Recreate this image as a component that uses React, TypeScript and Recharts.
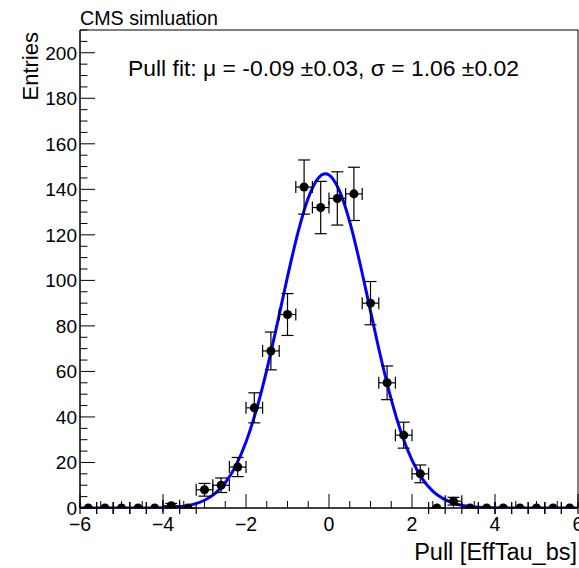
import { ComposedChart, ErrorBar, Line, ReferenceArea, Scatter, XAxis, YAxis } from "recharts";

// histogram of pulls, bin width 0.4
const binCenters = [
  -5.8, -5.4, -5.0, -4.6, -4.2, -3.8, -3.4, -3.0, -2.6, -2.2, -1.8, -1.4, -1.0, -0.6, -0.2,
  0.2, 0.6, 1.0, 1.4, 1.8, 2.2, 2.6, 3.0, 3.4, 3.8, 4.2, 4.6, 5.0, 5.4, 5.8,
];
const entries = [
  0, 0, 0, 0, 0, 1, 0, 8, 10, 18, 44, 69, 85, 141, 132,
  136, 138, 90, 55, 32, 15, 0, 3, 0, 0, 0, 0, 0, 0, 0,
];
const entryErrors = [
  0, 0, 0, 0, 0, 1, 0, 2.8, 3.2, 4.2, 6.6, 8.3, 9.2, 11.9, 11.5,
  11.7, 11.7, 9.5, 7.4, 5.7, 3.9, 0, 1.7, 0, 0, 0, 0, 0, 0, 0,
];
const binHalfWidth = 0.2;

// gaussian fit curve
const fitX = [
  -6, -5, -4.5, -4, -3.75, -3.5, -3.25, -3, -2.75, -2.5, -2.25, -2, -1.75, -1.5, -1.25, -1,
  -0.75, -0.5, -0.25, -0.09, 0, 0.25, 0.5, 0.75, 1, 1.25, 1.5, 1.75, 2, 2.25, 2.5, 2.75, 3,
  3.25, 3.5, 3.75, 4, 4.5, 5, 6,
];
const fitY = [
  0, 0, 0.02, 0.16, 0.38, 0.83, 1.7, 3.4, 6.3, 11.1, 18.4, 29.0, 43.1, 60.6, 80.7, 101.6,
  120.9, 136.2, 145.1, 146.8, 146.3, 139.4, 125.7, 107.2, 86.5, 66.0, 47.7, 32.5, 21.0, 12.8, 7.4, 4.1, 2.1,
  1.0, 0.47, 0.21, 0.08, 0.01, 0, 0,
];

const xMajorTicks = [-6, -4, -2, 0, 2, 4, 6];
const yMajorTicks = [0, 20, 40, 60, 80, 100, 120, 140, 160, 180, 200];
const xTicks: number[] = [];
for (let v = -6; v <= 6.001; v += 0.5) xTicks.push(Math.round(v * 10) / 10);
const yTicks: number[] = [];
for (let v = 0; v <= 210; v += 5) yTicks.push(v);

const titleText = "CMS simluation";
const fitText = "Pull fit: \u03bc = -0.09 \u00b10.03, \u03c3 = 1.06 \u00b10.02";
const xTitle = "Pull [EffTau_bs]";
const yTitle = "Entries";

const points = binCenters.map((x, i) => ({ x, y: entries[i], ey: entryErrors[i], ex: binHalfWidth }));
const fitData = fitX.map((x, i) => ({ x, y: fitY[i] }));

const FONT = '"Liberation Sans", Arial, Helvetica, sans-serif';

const fmt = (v: number) => (v < 0 ? `\u2212${Math.abs(v)}` : `${v}`);

const XTick = (props: any) => {
  const { x, y, payload } = props;
  const major = xMajorTicks.includes(payload.value);
  return (
    <g>
      <line x1={x} x2={x} y1={y} y2={y - (major ? 14 : 7)} stroke="#000" strokeWidth={1} />
      {major && (
        <text x={x} y={y + 23} textAnchor="middle" fontSize={19.5} fontFamily={FONT} fill="#000">
          {fmt(payload.value)}
        </text>
      )}
    </g>
  );
};

const YTick = (props: any) => {
  const { x, y, payload } = props;
  const major = yMajorTicks.includes(payload.value);
  return (
    <g>
      <line x1={x} x2={x + (major ? 15 : 7.5)} y1={y} y2={y} stroke="#000" strokeWidth={1} />
      {major && (
        <text x={x - 3} y={y} dy="0.36em" textAnchor="end" fontSize={19} fontFamily={FONT} fill="#000">
          {payload.value}
        </text>
      )}
    </g>
  );
};

export default function App() {
  return (
    <div style={{ position: "absolute", left: 0, top: 0, width: 579, height: 568, background: "#fff" }}>
      <ComposedChart width={579} height={568} margin={{ top: 30, right: 1, bottom: 0, left: 0 }}>
        <XAxis
          dataKey="x"
          type="number"
          domain={[-6, 6]}
          ticks={xTicks}
          interval={0}
          allowDataOverflow
          height={60}
          tickSize={0}
          tickMargin={0}
          tickLine={false}
          axisLine={{ stroke: "#000", strokeWidth: 1 }}
          tick={<XTick />}
        />
        <YAxis
          dataKey="y"
          type="number"
          domain={[0, 210]}
          ticks={yTicks}
          interval={0}
          allowDataOverflow
          width={80}
          tickSize={0}
          tickMargin={0}
          tickLine={false}
          axisLine={{ stroke: "#000", strokeWidth: 1 }}
          tick={<YTick />}
        />
        <ReferenceArea x1={-6} x2={6} y1={0} y2={210} fill="none" stroke="#000" strokeWidth={1} />
        <Line
          data={fitData}
          dataKey="y"
          type="monotone"
          stroke="#0000ff"
          strokeWidth={3}
          dot={false}
          activeDot={false}
          isAnimationActive={false}
        />
        <Scatter data={points} dataKey="y" fill="#000" shape="circle" isAnimationActive={false}>
          <ErrorBar dataKey="ey" direction="y" width={6} stroke="#000" strokeWidth={1.2} />
          <ErrorBar dataKey="ex" direction="x" width={6} stroke="#000" strokeWidth={1.2} />
        </Scatter>
      </ComposedChart>
      <svg
        width={579}
        height={568}
        style={{ position: "absolute", left: 0, top: 0, pointerEvents: "none" }}
        fontFamily={FONT}
      >
        <text x={80} y={25} fontSize={19.7} fill="#000">
          {titleText}
        </text>
        <text x={128} y={76} fontSize={22.9} fill="#000">
          {fitText}
        </text>
        <text x={577} y={560} fontSize={23.5} textAnchor="end" fill="#000">
          {xTitle}
        </text>
        <text x={37.5} y={32} fontSize={22} textAnchor="end" fill="#000" transform="rotate(-90 37.5 32)">
          {yTitle}
        </text>
      </svg>
    </div>
  );
}
